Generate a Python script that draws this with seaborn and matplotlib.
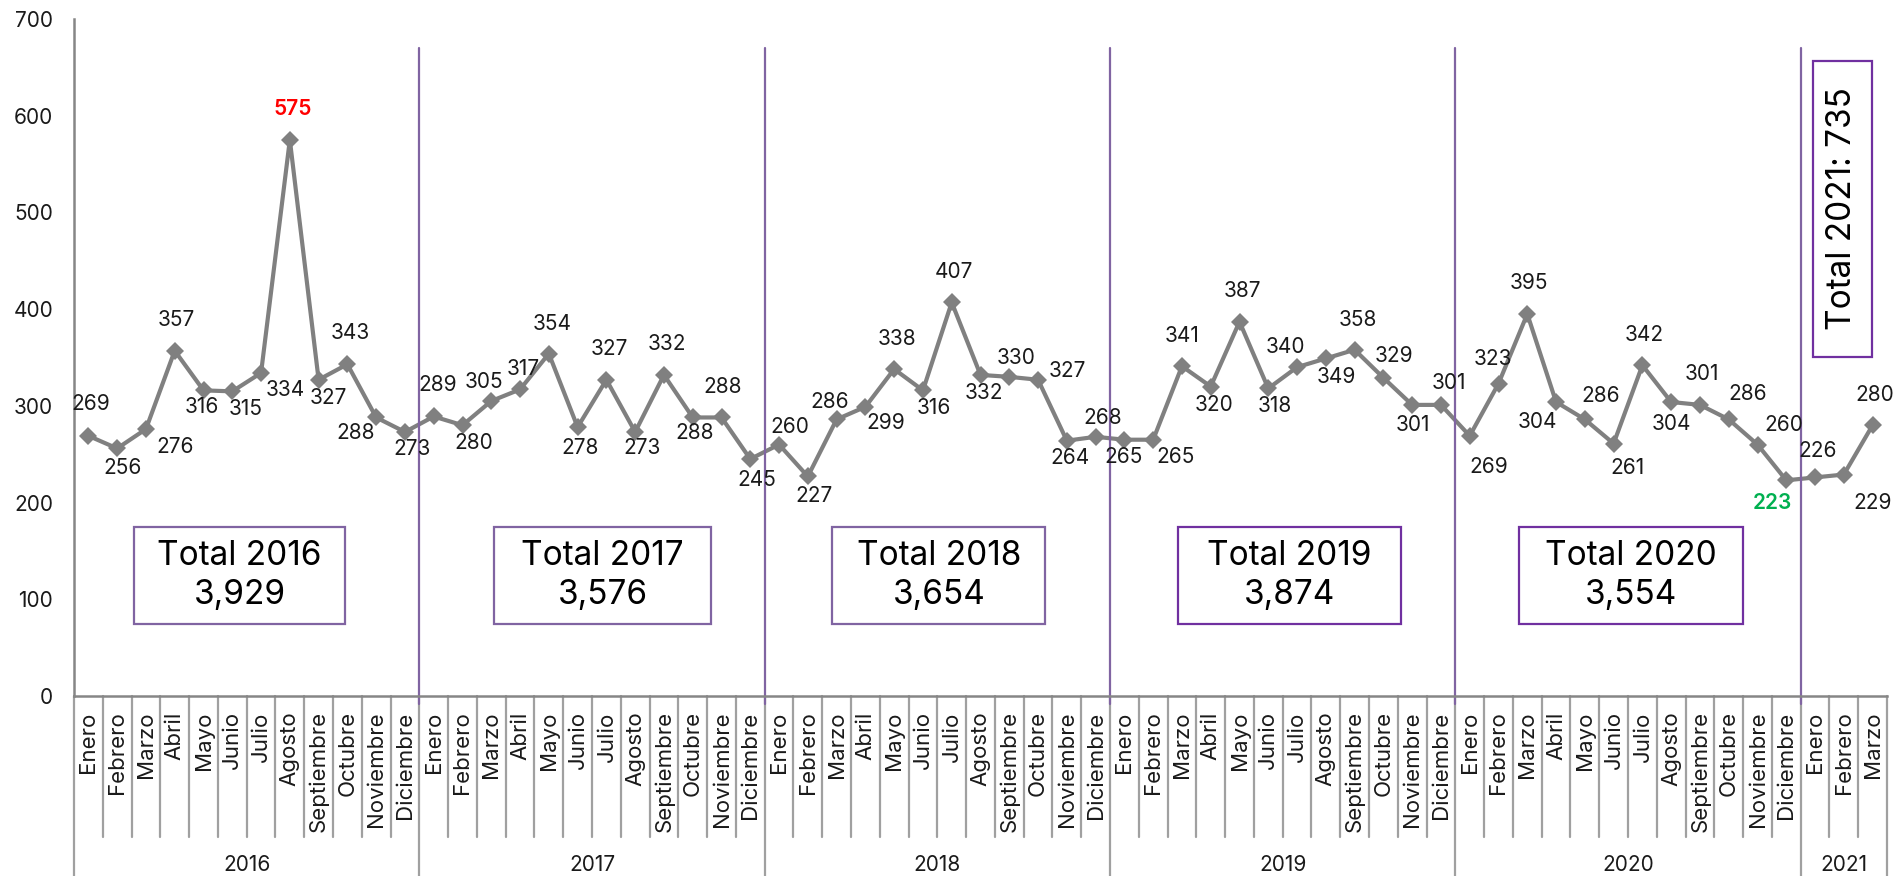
import matplotlib.pyplot as plt
import matplotlib.transforms as mtransforms
from matplotlib.patches import Rectangle
import seaborn as sns
import pandas as pd

# Monthly values per year
months = ['Enero', 'Febrero', 'Marzo', 'Abril', 'Mayo', 'Junio', 'Julio',
          'Agosto', 'Septiembre', 'Octubre', 'Noviembre', 'Diciembre']
years = ['2016', '2017', '2018', '2019', '2020', '2021']
values_2016 = [269, 256, 276, 357, 316, 315, 334, 575, 327, 343, 288, 273]
values_2017 = [289, 280, 305, 317, 354, 278, 327, 273, 332, 288, 288, 245]
values_2018 = [260, 227, 286, 299, 338, 316, 407, 332, 330, 327, 264, 268]
values_2019 = [265, 265, 341, 320, 387, 318, 340, 349, 358, 329, 301, 301]
values_2020 = [269, 323, 395, 304, 286, 261, 342, 304, 301, 286, 260, 223]
values_2021 = [226, 229, 280]

# label offsets in pixels (dx, dy) relative to each marker
label_offsets = [
    (2, 32), (5, -20), (29, -18), (2, 31), (-2, -17), (13, -18), (24, -17), (3, 31), (10, -18), (3, 31), (-21, -16), (7, -17),
    (4, 31), (11, -18), (-7, 19), (3, 20), (3, 30), (2, -21), (3, 31), (7, -16), (3, 31), (2, -16), (1, 30), (7, -21),
    (11, 18), (6, -20), (-7, 17), (20, -16), (3, 30), (11, -18), (2, 30), (3, -18), (7, 19), (29, 9), (3, -17), (7, 19),
    (-1, -17), (22, -17), (0, 30), (3, -18), (3, 31), (7, -18), (-12, 20), (11, -19), (3, 30), (11, 22), (1, -20), (8, 22),
    (19, -31), (-6, 25), (2, 31), (-19, -20), (16, 23), (14, -24), (2, 30), (0, -22), (2, 31), (19, 25), (26, 20), (-14, -23),
    (3, 26), (29, -28), (2, 30),
]

all_values = [values_2016, values_2017, values_2018, values_2019, values_2020, values_2021]
rows = []
for y, vals in zip(years, all_values):
    for m, v in zip(months, vals):
        rows.append({'year': y, 'month': m, 'value': v})
df = pd.DataFrame(rows)
df['idx'] = range(len(df))

sns.set_style('white')
plt.rcParams['font.family'] = ['Inter', 'DejaVu Sans']

fig = plt.figure(figsize=(18.97, 8.76), dpi=100)
ax = fig.add_axes([74 / 1897, 180 / 876, 1813 / 1897, 677 / 876])

sns.lineplot(data=df, x='idx', y='value', ax=ax, color='#808080', linewidth=3,
             marker='D', markersize=9.5, markeredgewidth=0, markerfacecolor='#808080')

fs = 15
ax.set_xlim(-0.5, len(df) - 0.5)
ax.set_ylim(0, 700)
ax.set_yticks(range(0, 701, 100))
ax.tick_params(axis='y', length=5, width=1.5, color='#868686', pad=10, labelsize=fs, labelcolor='#1a1a1a')
ax.set_xticks(df['idx'])
ax.set_xticklabels(df['month'], rotation=90, fontsize=16, color='#1a1a1a')
ax.tick_params(axis='x', length=0, pad=11)
ax.set_xlabel('')
ax.set_ylabel('')
for s in ['top', 'right']:
    ax.spines[s].set_visible(False)
for s in ['left', 'bottom']:
    ax.spines[s].set_color('#868686')
    ax.spines[s].set_linewidth(1.8)

# data labels
imax = df['value'].idxmax()
imin = df['value'].idxmin()
for i, v in zip(df['idx'], df['value']):
    dx, dy = label_offsets[i]
    color = '#1a1a1a'
    weight = 'normal'
    if i == imax:
        color, weight = '#ff0000', 'semibold'
    elif i == imin:
        color, weight = '#00b050', 'semibold'
    ax.annotate(str(v), (i, v), xytext=(dx, dy), textcoords='offset pixels',
                ha='center', va='center', fontsize=fs, color=color, fontweight=weight)

# multi-level category axis
trans = mtransforms.blended_transform_factory(ax.transData, ax.transAxes)
n = len(df)
year_starts = df.groupby('year')['idx'].min().tolist() + [n]
for b in range(1, n):
    if b not in year_starts:
        ax.plot([b - 0.5, b - 0.5], [0, -0.208], transform=trans, color='#a0a0a0', lw=1.6, clip_on=False)
for b in year_starts:
    ax.plot([b - 0.5, b - 0.5], [0, -0.27], transform=trans, color='#a0a0a0', lw=1.6, clip_on=False)
for k, y in enumerate(years):
    c = (year_starts[k] + year_starts[k + 1] - 1) / 2
    ax.text(c, -0.2496, y, transform=trans, ha='center', va='center', fontsize=fs, color='#1a1a1a')

# year separators
for b in year_starts[1:-1]:
    ax.plot([b - 0.5, b - 0.5], [-0.012, 0.957], transform=trans, color='#8064a2', lw=1.6, clip_on=False)

# total boxes
box_x = [(1.58, 8.92), (14.09, 21.65), (25.85, 33.25), (37.88, 45.61), (49.7, 57.48)]
box_colors = ['#8064a2', '#8064a2', '#8064a2', '#7030a0', '#7030a0']
for k in range(5):
    x0, x1 = box_x[k]
    ax.add_patch(Rectangle((x0, 74.5), x1 - x0, 100, fill=False, edgecolor=box_colors[k], lw=1.6))
    total = df.loc[df['year'] == years[k], 'value'].sum()
    ax.text((x0 + x1) / 2, 124.5, f'Total {years[k]}\n{total:,}', ha='center', va='center',
            fontsize=24, linespacing=1.25, color='black')

total_2021 = df.loc[df['year'] == '2021', 'value'].sum()
ax.add_patch(Rectangle((59.93, 350.5), 2.05, 306, fill=False, edgecolor='#7030a0', lw=1.6, clip_on=False))
ax.text(60.95, 503.5, f'Total 2021: {total_2021:,}', rotation=90, ha='center', va='center',
        fontsize=24, color='black')

plt.savefig('out.png', dpi=100)
